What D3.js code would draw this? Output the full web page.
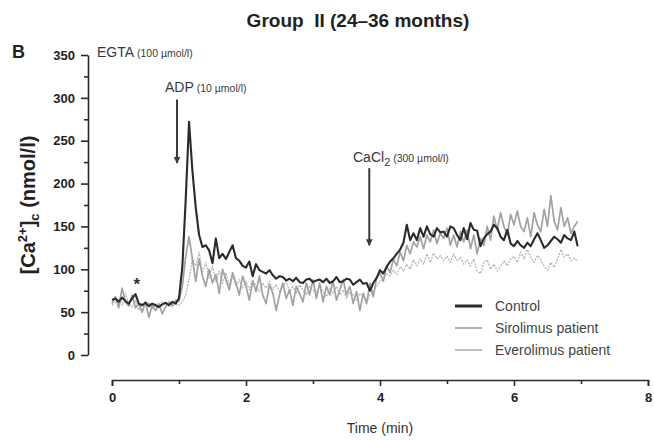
<!DOCTYPE html>
<html><head><meta charset="utf-8">
<script src="https://cdn.jsdelivr.net/npm/d3@7"></script>
<style>
body{margin:0;background:#fff}
svg{display:block}
text{font-family:"Liberation Sans",Arial,Helvetica,sans-serif}
</style>
</head><body>
<svg id="chart" width="654" height="441"></svg>
<script>
// ---- data ----
const sampleStep = 0.05; // min between samples, first sample at t = 0
const xTicks = [0, 2, 4, 6, 8];
const xMinorTicks = [1, 3, 5, 7];
const yTicks = [0, 50, 100, 150, 200, 250, 300, 350];
const yMinorTicks = [25, 75, 125, 175, 225, 275, 325];
const seriesNames = ["Control", "Sirolimus patient", "Everolimus patient"];

const control = [
 64,66,62,67,63,60,66,71,60,58, 61,57,60,58,56,59,61,58,62,60,
 66,103,181,272,215,172,140,126,128,122, 107,136,113,118,112,120,128,113,110,104,
 102,109,92,106,99,97,95,99,93,89, 92,91,87,89,86,90,85,84,88,89,
 85,87,88,85,89,84,86,91,85,86, 89,88,82,85,88,83,84,75,84,90,
 99,95,103,109,113,118,123,131,152,134, 142,134,148,138,150,141,138,148,143,144,
 138,150,148,140,134,148,135,154,146,145, 127,136,141,144,152,148,138,134,146,130,
 127,133,128,125,131,127,135,142,134,125, 128,133,138,135,131,140,136,134,144,127
];
const sirolimus = [
 60,68,55,78,62,57,70,55,60,50, 62,44,58,52,60,48,56,62,58,64,
 63,80,115,138,112,86,112,92,80,100, 84,94,72,100,88,76,96,84,70,92,
 80,64,86,74,92,70,60,82,72,52, 70,84,66,76,58,80,72,62,84,70,
 88,66,84,62,80,70,86,64,76,88, 70,80,60,74,52,72,60,84,68,90,
 96,86,104,96,112,104,120,110,128,118, 132,126,138,124,140,132,146,130,142,136,
 148,128,140,126,144,132,146,124,140,118, 136,128,150,134,162,146,166,150,140,164,
 152,168,150,144,160,138,166,152,144,170, 150,186,156,146,172,150,160,142,150,156
];
const everolimus = [
 58,62,66,58,72,60,56,64,52,60, 56,62,54,60,56,62,58,60,56,60,
 58,62,70,88,112,104,120,96,108,90, 104,86,98,84,96,82,92,80,88,78,
 86,76,88,80,74,84,78,86,76,82, 74,80,86,74,80,72,82,76,70,80,
 76,72,82,74,68,78,72,80,70,76, 66,74,70,64,72,68,62,70,74,80,
 86,90,95,92,99,94,103,98,106,100, 111,104,112,106,118,108,119,112,116,110,
 115,108,118,110,114,106,111,104,112,98, 95,108,111,100,106,98,103,110,104,112,
 115,108,120,112,123,114,108,116,111,104, 99,108,102,112,123,114,118,110,113,110
];

// ---- layout ----
const svg = d3.select("#chart");
const x = d3.scaleLinear().domain([0, 8]).range([112, 648]);
const y = d3.scaleLinear().domain([0, 350]).range([355, 55]);
const axisColor = "#2a2a2a";

// title
svg.append("text").attr("x", 358).attr("y", 27).attr("text-anchor", "middle")
  .attr("font-size", 19).attr("font-weight", "bold").attr("fill", "#222")
  .attr("xml:space", "preserve")
  .text("Group  II (24\u201336 months)");
svg.append("text").attr("x", 12).attr("y", 58)
  .attr("font-size", 18).attr("font-weight", "bold").attr("fill", "#222").text("B");

// y axis
const yAxisX = 88;
const gy = svg.append("g").attr("transform", `translate(${yAxisX},0)`);
gy.call(d3.axisLeft(y).tickValues(yTicks).tickSize(7).tickSizeOuter(0).tickPadding(6));
gy.append("g").call(d3.axisLeft(y).tickValues(yMinorTicks).tickSize(4).tickFormat(""))
  .select(".domain").remove();
gy.selectAll("path,line").attr("stroke", axisColor).attr("stroke-width", 1.6);
gy.selectAll("text").attr("font-size", 13).attr("font-weight", "bold").attr("fill", "#222");

// x axis
const xAxisY = 380;
const gx = svg.append("g").attr("transform", `translate(0,${xAxisY})`);
gx.call(d3.axisBottom(x).tickValues(xTicks).tickSize(6).tickSizeOuter(6).tickPadding(7));
gx.append("g").call(d3.axisBottom(x).tickValues(xMinorTicks).tickSize(4).tickFormat(""))
  .select(".domain").remove();
gx.selectAll("path,line").attr("stroke", axisColor).attr("stroke-width", 1.6);
gx.selectAll("text").attr("font-size", 13).attr("font-weight", "bold").attr("fill", "#222");

svg.append("text").attr("x", 380).attr("y", 433).attr("text-anchor", "middle")
  .attr("font-size", 14).attr("fill", "#333").text("Time (min)");

// y label
const yl = svg.append("text").attr("transform", "translate(35,205) rotate(-90)")
  .attr("text-anchor", "middle").attr("font-size", 20).attr("font-weight", "bold").attr("fill", "#222");
yl.append("tspan").text("[Ca");
yl.append("tspan").attr("dy", -8).attr("font-size", 13).text("2+");
yl.append("tspan").attr("dy", 8).text("]");
yl.append("tspan").attr("dy", 4).attr("font-size", 13).text("c");
yl.append("tspan").attr("dy", -4).text(" (nmol/l)");

// lines
const line = d3.line().x((d, i) => x(i * sampleStep)).y(d => y(d));
const styles = [
  {data: everolimus, stroke: "#b4b4b4", width: 1.3, dash: "2,1.2"},
  {data: sirolimus, stroke: "#a2a2a2", width: 1.7, dash: null},
  {data: control, stroke: "#2b2b2b", width: 2.1, dash: null}
];
styles.forEach(s => {
  svg.append("path").datum(s.data).attr("d", line).attr("fill", "none")
    .attr("stroke", s.stroke).attr("stroke-width", s.width)
    .attr("stroke-linejoin", "round").attr("stroke-dasharray", s.dash);
});

// annotations
const annColor = "#3a3a3a";
function label(xp, yp, main, sub, small) {
  const t = svg.append("text").attr("x", xp).attr("y", yp).attr("font-size", 14).attr("fill", annColor);
  t.append("tspan").text(main);
  if (sub) t.append("tspan").attr("dy", 4).attr("font-size", 11).text(sub);
  t.append("tspan").attr("dy", sub ? -4 : 0).attr("font-size", 10.5).text(small);
  return t;
}
label(97, 57, "EGTA", null, " (100 \u00b5mol/l)");
label(165, 92, "ADP", null, " (10 \u00b5mol/l)");
label(353, 162, "CaCl", "2", " (300 \u00b5mol/l)");

svg.append("defs").append("marker").attr("id", "ah").attr("viewBox", "0 0 10 10")
  .attr("refX", 9).attr("refY", 5).attr("markerWidth", 3.4).attr("markerHeight", 3.4)
  .attr("orient", "auto-start-reverse").append("path").attr("d", "M0,0L10,5L0,10Z").attr("fill", annColor);
function arrow(t, v0, v1) {
  svg.append("line").attr("x1", x(t)).attr("x2", x(t)).attr("y1", y(v0)).attr("y2", y(v1))
    .attr("stroke", annColor).attr("stroke-width", 2).attr("marker-end", "url(#ah)");
}
arrow(0.97, 298, 224);
arrow(3.84, 218, 128);

svg.append("text").attr("x", x(0.37)).attr("y", y(76)).attr("text-anchor", "middle")
  .attr("font-size", 17).attr("font-weight", "bold").attr("fill", "#333").text("*");

// legend
const legend = svg.append("g").attr("transform", "translate(455,306)");
const legStyles = [styles[2], styles[1], styles[0]];
seriesNames.forEach((n, i) => {
  const g = legend.append("g").attr("transform", `translate(0,${i * 22})`);
  g.append("line").attr("x1", 0).attr("x2", 27).attr("y1", 0).attr("y2", 0)
    .attr("stroke", legStyles[i].stroke).attr("stroke-width", i === 0 ? 3 : 1.7);
  g.append("text").attr("x", 40).attr("y", 5).attr("font-size", 14).attr("fill", "#444").text(n);
});
</script>
</body></html>
